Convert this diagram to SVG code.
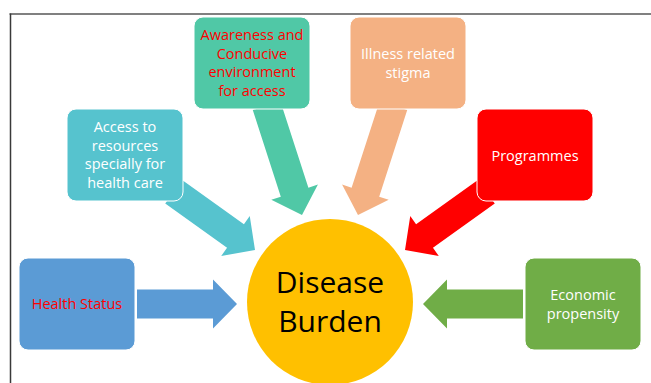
<svg xmlns="http://www.w3.org/2000/svg" width="651" height="383" viewBox="0 0 651 383">
  <style>
    .box { stroke: #ffffff; stroke-width: 1; }
    .lbl { font-family: "Open Sans", "Liberation Sans", sans-serif; font-size: 14.5px; text-anchor: middle; fill: #ffffff; }
    .red { fill: #ff0000; }
    .hub { font-family: "Open Sans", "Liberation Sans", sans-serif; font-size: 30px; text-anchor: middle; fill: #000000; }
  </style>
  <defs>
    <!-- block arrow pointing along +x, tip at the origin -->
    <path id="arrow115" d="M-115,-14.5 H-24 V-24.5 L0,0 L-24,24.5 V14.5 H-115 Z"/>
    <path id="arrow100" d="M-100,-14.5 H-24 V-24.5 L0,0 L-24,24.5 V14.5 H-100 Z"/>
  </defs>

  <rect width="651" height="383" fill="#ffffff"/>
  <!-- frame -->
  <line x1="9.5" y1="14" x2="651" y2="14" stroke="#808080" stroke-width="1.8"/>
  <line x1="10.5" y1="13.5" x2="10.5" y2="383" stroke="#3a3a3a" stroke-width="1.5"/>

  <g id="connectors">
    <use href="#arrow100" transform="translate(237,304)" fill="#5b9bd5"/>
    <use href="#arrow100" transform="translate(255,250) rotate(35.6)" fill="#56c3ce"/>
    <use href="#arrow115" transform="translate(302,215) rotate(72.06)" fill="#50c8a6"/>
    <use href="#arrow115" transform="translate(358,215) rotate(107.94)" fill="#f4b183"/>
    <use href="#arrow100" transform="translate(405,250) rotate(144.4)" fill="#ff0000"/>
    <use href="#arrow100" transform="translate(423,304) rotate(180)" fill="#70ad47"/>
  </g>

  <g id="health-status">
    <rect class="box" x="19" y="258" width="116" height="92" rx="9" fill="#5b9bd5"/>
    <text class="lbl red" x="77" y="308.5">Health Status</text>
  </g>

  <g id="access-resources">
    <rect class="box" x="67" y="109" width="116" height="92" rx="9" fill="#56c3ce"/>
    <text class="lbl" x="125" y="132">Access to</text>
    <text class="lbl" x="125" y="150.5">resources</text>
    <text class="lbl" x="125" y="169">specially for</text>
    <text class="lbl" x="125" y="187.5">health care</text>
  </g>

  <g id="awareness">
    <rect class="box" x="194" y="17" width="116" height="92" rx="9" fill="#50c8a6"/>
    <text class="lbl red" x="252" y="40">Awareness and</text>
    <text class="lbl red" x="252" y="58.5">Conducive</text>
    <text class="lbl red" x="252" y="77">environment</text>
    <text class="lbl red" x="252" y="95.5">for access</text>
  </g>

  <g id="illness-stigma">
    <rect class="box" x="350" y="17" width="116" height="92" rx="9" fill="#f4b183"/>
    <text class="lbl" x="408" y="59">Illness related</text>
    <text class="lbl" x="408" y="77.5">stigma</text>
  </g>

  <g id="programmes">
    <rect class="box" x="477" y="109" width="116" height="92" rx="9" fill="#ff0000"/>
    <text class="lbl" x="535" y="160.5">Programmes</text>
  </g>

  <g id="economic-propensity">
    <rect class="box" x="525" y="258" width="116" height="92" rx="9" fill="#70ad47"/>
    <text class="lbl" x="583" y="300">Economic</text>
    <text class="lbl" x="583" y="318.5">propensity</text>
  </g>

  <g id="disease-burden">
    <circle cx="330" cy="302" r="83" fill="#ffc000"/>
    <text class="hub" x="330" y="293">Disease</text>
    <text class="hub" x="330" y="332">Burden</text>
  </g>
</svg>
